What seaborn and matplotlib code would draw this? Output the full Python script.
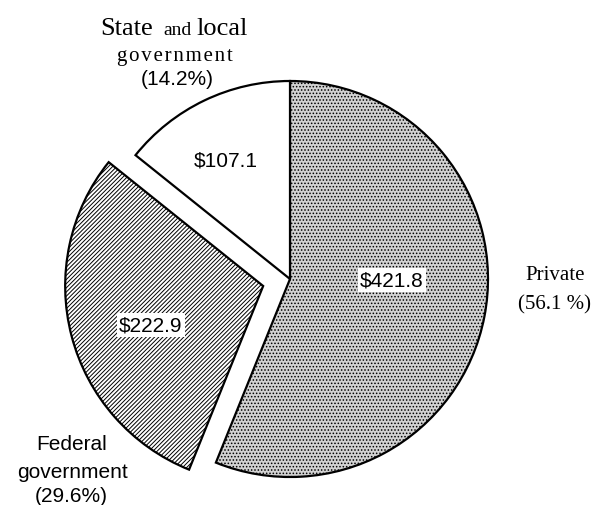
import matplotlib
matplotlib.use("Agg")
import matplotlib.pyplot as plt
import seaborn as sns

# spending by source (billions)
sources = ["Private", "Federal government", "State and local government"]
amounts = [421.8, 222.9, 107.1]
shares = ["56.1 %", "29.6%", "14.2%"]
amount_labels = ["$421.8", "$222.9", "$107.1"]

sns.set_style("white")
plt.rcParams['font.family'] = ['Liberation Sans', 'DejaVu Sans']
plt.rcParams['text.color'] = 'black'
plt.rcParams['hatch.linewidth'] = 0.7

W, H = 591, 506
cx, cy, R = 290, 280, 198  # pixel centre and radius of the pie
serif = ['Liberation Serif', 'DejaVu Serif']


def px(x, y):
    # pixel position (from top-left) -> data coords
    return (x - cx) / R, (cy - y) / R


fig = plt.figure(figsize=(W / 100, H / 100), dpi=100)
ax = fig.add_axes([0, 0, 1, 1])

wedges, _ = ax.pie(amounts, startangle=90, counterclock=False,
                   explode=[0, 0.14, 0], radius=1,
                   colors=["#d2d2d2", "white", "white"],
                   wedgeprops=dict(edgecolor="black", linewidth=1.6))
wedges[0].set_hatch(".....")
wedges[1].set_hatch("////////")

ax.set_xlim(-cx / R, (W - cx) / R)
ax.set_ylim(-(H - cy) / R, cy / R)
ax.set_aspect("equal", adjustable="datalim")
ax.axis("off")

# amounts inside the slices
box = dict(facecolor="white", edgecolor="none", pad=1.5)
ax.text(*px(392, 281), amount_labels[0], ha="center", va="center", fontsize=15, bbox=box)
ax.text(*px(151, 326), amount_labels[1], ha="center", va="center", fontsize=15, bbox=box)
ax.text(*px(226, 161), amount_labels[2], ha="center", va="center", fontsize=15)

# Private label (serif)
ax.text(*px(555, 276), "Private", ha="center", va="center", fontsize=15, family=serif)
ax.text(*px(555, 305), "(" + shares[0] + ")", ha="center", va="center", fontsize=15,
        family=serif)

# Federal label
ax.text(*px(72, 445), "Federal", ha="center", va="center", fontsize=15)
ax.text(*px(72, 473), "government", ha="center", va="center", fontsize=15)
ax.text(*px(71, 497), "(" + shares[1] + ")", ha="center", va="center", fontsize=15)

# State and local label
ax.text(*px(127, 35), "State", ha="center", va="baseline", fontsize=19, family=serif)
ax.text(*px(177, 35), "and", ha="center", va="baseline", fontsize=14, family=serif)
ax.text(*px(222, 35), "local", ha="center", va="baseline", fontsize=19, family=serif)
ax.text(*px(175, 57), "\u200a".join("government"), ha="center", va="center",
        fontsize=15, family=serif)
ax.text(*px(177, 80), "(" + shares[2] + ")", ha="center", va="center", fontsize=15)

fig.savefig("out.png", dpi=100)
